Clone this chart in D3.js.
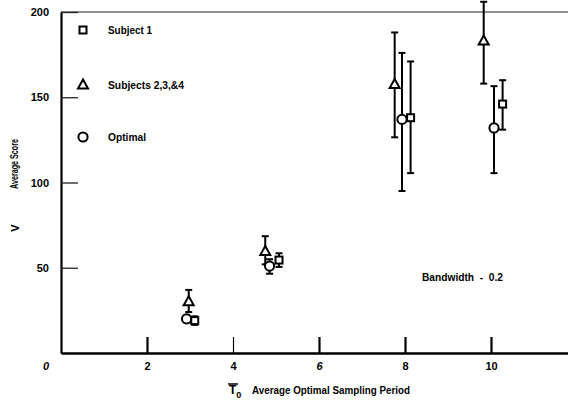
<!DOCTYPE html>
<html>
<head>
<meta charset="utf-8">
<script src="https://cdn.jsdelivr.net/npm/d3@7"></script>
<style>
  body { margin: 0; background: #fff; }
  svg { display: block; font-family: "Liberation Sans", Arial, sans-serif; font-weight: bold; }
</style>
</head>
<body>
<svg id="chart" width="568" height="403"></svg>
<script>
// values
const groups = ["Subject 1", "Subjects 2,3,&4", "Optimal"];
const symbols = ["square", "triangle", "circle"];

const subject1 = [
  { t: 3.11, v: 19, lo: 16.5, hi: 21.5 },
  { t: 5.07, v: 54.5, lo: 50.5, hi: 58.5 },
  { t: 8.13, v: 138, lo: 105.5, hi: 171 },
  { t: 10.27, v: 146, lo: 131, hi: 160 },
];
const subjects234 = [
  { t: 2.97, v: 30, lo: 24, hi: 37 },
  { t: 4.75, v: 59.5, lo: 52, hi: 68.5 },
  { t: 7.76, v: 157.5, lo: 126.5, hi: 188 },
  { t: 9.83, v: 183, lo: 158, hi: 206 },
];
const optimal = [
  { t: 2.92, v: 20, lo: 18, hi: 22 },
  { t: 4.85, v: 51, lo: 46.5, hi: 55 },
  { t: 7.93, v: 137, lo: 95, hi: 176 },
  { t: 10.07, v: 132, lo: 105.5, hi: 156.5 },
];
const series = [subject1, subjects234, optimal];

const xTicks = [2, 4, 6, 8, 10];
const yTicks = [50, 100, 150, 200];

const svg = d3.select("#chart");
const x = d3.scaleLinear([0, 12], [61, 577]);
const y = d3.scaleLinear([0, 200], [353, 12]);

// top border (thin, as in the scan)
svg.append("line")
  .attr("x1", x(0)).attr("x2", 568)
  .attr("y1", y(200)).attr("y2", y(200))
  .attr("stroke", "#222").attr("stroke-width", 1.2);

// x axis, ticks pointing up into the plot
const xAxis = svg.append("g")
  .attr("transform", `translate(0,${y(0)})`)
  .call(d3.axisBottom(x).tickValues(xTicks).tickSize(-16).tickSizeOuter(0).tickPadding(9));
xAxis.select(".domain").attr("stroke-width", 2.6).attr("stroke", "#000");
xAxis.selectAll(".tick line").attr("stroke-width", (d) => (d == 4 ? 1.2 : 2.2));
xAxis.selectAll(".tick text")
  .attr("font-size", 11).attr("font-weight", "bold").attr("font-family", null)
  .attr("font-style", (d) => (d == 6 ? "italic" : null));

// origin label sits left of the y axis
svg.append("text")
  .attr("x", 46).attr("y", 370)
  .attr("text-anchor", "middle").attr("font-size", 11).attr("font-style", "italic")
  .text("0");

// y axis, ticks pointing right
const yAxis = svg.append("g")
  .attr("transform", `translate(${x(0)},0)`)
  .call(d3.axisLeft(y).tickValues(yTicks).tickSize(-17).tickSizeOuter(0).tickPadding(12));
yAxis.select(".domain").attr("stroke-width", 2.2).attr("stroke", "#000");
yAxis.selectAll(".tick line").attr("stroke-width", 1.3).attr("stroke", "#222");
yAxis.selectAll(".tick text").attr("font-size", 11).attr("font-weight", "bold").attr("font-family", null);

// axis titles
svg.append("text")
  .attr("transform", "translate(19,228) rotate(-90)")
  .attr("text-anchor", "middle").attr("font-size", 11)
  .text("V");
svg.append("text")
  .attr("transform", "translate(18,164) rotate(-90)")
  .attr("text-anchor", "middle").attr("font-size", 10.5)
  .attr("textLength", 50).attr("lengthAdjust", "spacingAndGlyphs")
  .text("Average Score");

const t0 = svg.append("text").attr("x", 229).attr("y", 394).attr("font-size", 12);
t0.append("tspan").text("T");
t0.append("tspan").attr("dy", 4).attr("font-size", 9).text("0");
svg.append("line")
  .attr("x1", 228).attr("x2", 238).attr("y1", 384).attr("y2", 384)
  .attr("stroke", "#000").attr("stroke-width", 1.5);
svg.append("text")
  .attr("x", 252).attr("y", 394).attr("font-size", 10.5)
  .attr("textLength", 158).attr("lengthAdjust", "spacingAndGlyphs")
  .text("Average Optimal Sampling Period");

svg.append("text")
  .attr("x", 422).attr("y", 281).attr("font-size", 10.5)
  .style("white-space", "pre")
  .attr("textLength", 81).attr("lengthAdjust", "spacingAndGlyphs")
  .text("Bandwidth  -  0.2");

// marker shapes
const mark = (sel, kind) => {
  if (kind == "square") {
    sel.append("rect").attr("x", -3.5).attr("y", -3.5).attr("width", 7).attr("height", 7);
  } else if (kind == "triangle") {
    sel.append("path").attr("d", "M0,-5.5L5,3.5L-5,3.5Z");
  } else {
    sel.append("circle").attr("r", 4.6);
  }
  sel.attr("fill", "#fff").attr("stroke", "#000").attr("stroke-width", 2);
};

// error bars + points
series.forEach((data, i) => {
  const g = svg.append("g").attr("class", "series");
  const bars = g.selectAll("g.err").data(data).join("g").attr("class", "err")
    .attr("stroke", "#000").attr("stroke-width", 2);
  bars.append("line")
    .attr("x1", (d) => x(d.t)).attr("x2", (d) => x(d.t))
    .attr("y1", (d) => y(d.lo)).attr("y2", (d) => y(d.hi));
  bars.append("line")
    .attr("x1", (d) => x(d.t) - 3.5).attr("x2", (d) => x(d.t) + 3.5)
    .attr("y1", (d) => y(d.hi)).attr("y2", (d) => y(d.hi));
  bars.append("line")
    .attr("x1", (d) => x(d.t) - 3.5).attr("x2", (d) => x(d.t) + 3.5)
    .attr("y1", (d) => y(d.lo)).attr("y2", (d) => y(d.lo));
  g.selectAll("g.pt").data(data).join("g").attr("class", "pt")
    .attr("transform", (d) => `translate(${x(d.t)},${y(d.v)})`)
    .call(mark, symbols[i]);
});

// legend
const legendY = [30, 85, 137];
const legend = svg.selectAll("g.legend").data(groups).join("g").attr("class", "legend")
  .attr("transform", (d, i) => `translate(83,${legendY[i]})`);
legend.each(function (d, i) {
  d3.select(this).append("g").call(mark, symbols[i]);
});
const legendW = [44, 76, 38];
legend.append("text")
  .attr("x", 25).attr("y", 4).attr("font-size", 11)
  .attr("textLength", (d, i) => legendW[i]).attr("lengthAdjust", "spacingAndGlyphs")
  .text((d) => d);
</script>
</body>
</html>
